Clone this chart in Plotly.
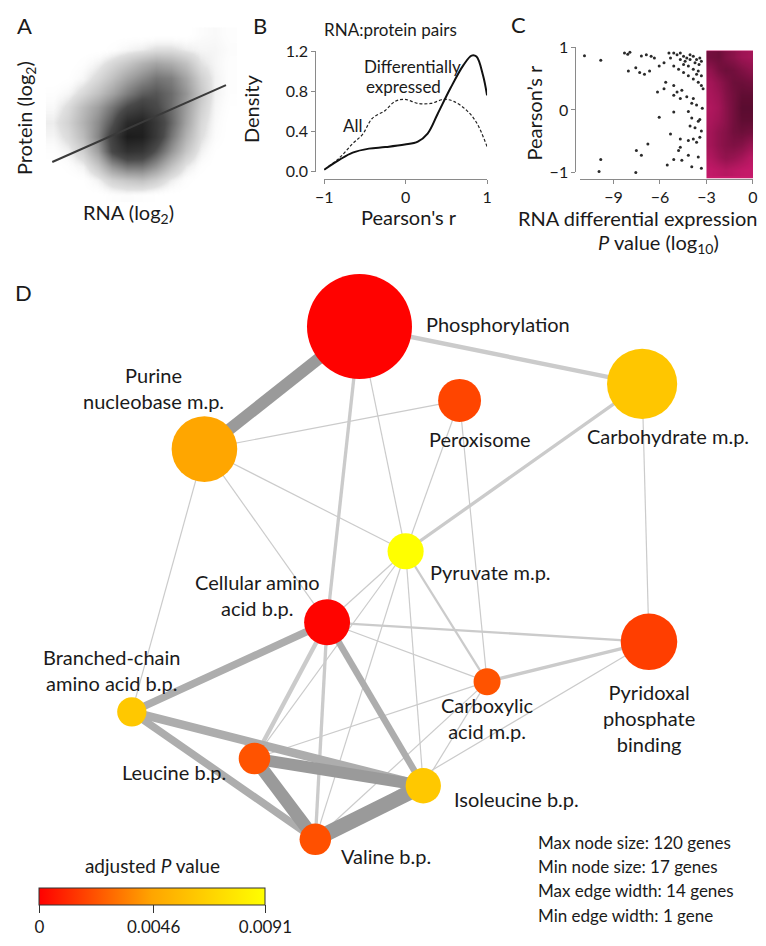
import plotly.graph_objects as go

# page body keeps its default 8px margin, so the figure is drawn 16px smaller
W, H = 766, 946
OFF = 8
FW, FH = W - 2 * OFF, H - 2 * OFF
def fx(x): return (x - OFF) / FW
def fy(y): return 1 - (y - OFF) / FH

FONT = "Lato"
TXT = "#1a1a1a"
AX = "#8a8a8a"

# ---------------- Panel A: RNA vs protein (estimated point density) ----------------
rna_bins = [2, 3, 4, 5, 6, 7, 8, 9, 10, 11, 12, 13, 14]
protein_bins = [2, 3, 4, 5, 6, 7, 8, 9, 10, 11, 12, 13]
density_a = [
    [0, 0, 0, 0, 0.02, 0.03, 0.02, 0.01, 0, 0, 0, 0, 0],
    [0, 0, 0.01, 0.06, 0.14, 0.18, 0.20, 0.15, 0.07, 0.02, 0, 0, 0],
    [0, 0.02, 0.06, 0.18, 0.35, 0.45, 0.45, 0.35, 0.20, 0.08, 0.02, 0, 0],
    [0.02, 0.06, 0.15, 0.32, 0.60, 0.75, 0.72, 0.55, 0.35, 0.18, 0.06, 0.01, 0],
    [0.05, 0.11, 0.22, 0.40, 0.65, 0.90, 0.88, 0.70, 0.45, 0.25, 0.10, 0.03, 0],
    [0.07, 0.14, 0.25, 0.38, 0.55, 0.80, 0.85, 0.70, 0.50, 0.30, 0.12, 0.04, 0],
    [0.04, 0.11, 0.22, 0.32, 0.45, 0.60, 0.68, 0.60, 0.48, 0.32, 0.15, 0.05, 0.01],
    [0.02, 0.05, 0.12, 0.20, 0.30, 0.42, 0.52, 0.55, 0.48, 0.35, 0.18, 0.06, 0.02],
    [0, 0.01, 0.05, 0.12, 0.20, 0.30, 0.38, 0.45, 0.42, 0.30, 0.15, 0.06, 0.02],
    [0, 0, 0.02, 0.06, 0.12, 0.18, 0.25, 0.30, 0.27, 0.20, 0.09, 0.05, 0.02],
    [0, 0, 0, 0, 0.02, 0.05, 0.07, 0.10, 0.10, 0.07, 0.05, 0.05, 0.03],
    [0, 0, 0, 0, 0, 0, 0, 0, 0, 0, 0.03, 0.04, 0.02],
]
fit_rna = [1.93, 13.73]
fit_protein = [4.27, 9.53]

# ---------------- Panel B: density of Pearson's r ----------------
r_diff = [-1.0, -0.81, -0.65, -0.45, -0.25, -0.01, 0.15, 0.27, 0.39, 0.55, 0.71, 0.81, 0.87, 0.95, 1.0]
dens_diff = [0.02, 0.12, 0.19, 0.23, 0.245, 0.27, 0.30, 0.38, 0.57, 0.83, 1.06, 1.155, 1.145, 0.96, 0.76]
r_all = [-1.0, -0.81, -0.65, -0.53, -0.41, -0.25, -0.13, -0.01, 0.15, 0.31, 0.47, 0.59, 0.75, 0.87, 1.0]
dens_all = [0.02, 0.14, 0.28, 0.37, 0.53, 0.61, 0.70, 0.72, 0.68, 0.68, 0.72, 0.70, 0.61, 0.49, 0.25]

# ---------------- Panel C: r vs RNA DE P value ----------------
pval_sparse = [-10.87, -9.82, -8.29, -8.08, -7.94, -8.04, -7.56, -7.31, -7.0, -7.2, -6.88, -6.57, -6.36,
               -6.67, -6.16, -6.05, -5.74, -5.63, -6.05, -5.74, -5.42, -5.32, -5.11, -4.9, -4.69, -4.48,
               -4.27, -4.06, -3.85, -3.64, -3.43, -5.11, -4.8, -4.48, -4.17, -3.85, -3.64, -3.53, -3.33,
               -5.11, -4.9, -4.59, -5.11, -4.69, -4.27, -3.95, -3.85, -3.64, -5.11, -4.17, -3.95, -3.53,
               -3.43, -4.06, -3.74, -5.32, -4.69, -4.17, -3.85, -3.64, -3.43, -6.78, -7.52, -7.2, -4.69,
               -4.8, -4.17, -3.53, -5.11, -4.59, -5.53, -3.95, -3.33, -9.82, -9.93, -7.56, -3.33, -3.22,
               -3.27, -3.33, -4.69, -4.38, -4.06, -3.74, -3.48, -3.33, -3.85, -3.53, -4.17, -4.48]
r_sparse = [0.877, 0.805, 0.92, 0.90, 0.93, 0.63, 0.685, 0.607, 0.58, 0.87, 0.893, 0.867, 0.84,
            0.63, 0.296, -0.109, 0.348, 0.452, 0.71, 0.763, 0.919, 0.84, 0.919, 0.893, 0.919, 0.867,
            0.84, 0.893, 0.867, 0.815, 0.84, 0.71, 0.659, 0.607, 0.555, 0.503, 0.581, 0.452, 0.40,
            0.40, 0.296, 0.322, 0.244, 0.192, 0.218, 0.114, 0.192, 0.088, -0.026, -0.016, -0.12, -0.172,
            -0.146, -0.25, -0.276, -0.378, -0.456, -0.482, -0.456, -0.508, -0.43, -0.535, -0.639, -0.717, -0.587,
            -0.639, -0.717, -0.743, -0.785, -0.795, -0.873, -0.899, -0.925, -0.785, -0.977, -0.992, 0.555, 0.348,
            0.036, -0.327, 0.815, 0.789, 0.815, 0.763, 0.737, 0.789, 0.659, 0.633, 0.71, 0.737]
pval_bins = [-2.75, -2.25, -1.75, -1.25, -0.75, -0.25]
r_bins = [-0.95, -0.75, -0.55, -0.35, -0.15, 0.05, 0.25, 0.45, 0.65, 0.85]
density_c = [
    [0.05, 0.10, 0.15, 0.10, 0.05, 0.02],
    [0.20, 0.35, 0.45, 0.40, 0.30, 0.15],
    [0.30, 0.45, 0.55, 0.60, 0.55, 0.40],
    [0.30, 0.45, 0.55, 0.70, 0.75, 0.70],
    [0.25, 0.35, 0.50, 0.70, 0.85, 0.85],
    [0.20, 0.30, 0.50, 0.70, 0.90, 0.90],
    [0.25, 0.35, 0.55, 0.70, 0.85, 0.85],
    [0.30, 0.45, 0.60, 0.75, 0.75, 0.70],
    [0.45, 0.65, 0.75, 0.70, 0.60, 0.50],
    [0.70, 0.75, 0.60, 0.50, 0.35, 0.30],
]
highlight_p = [-3.0, 0.0]
highlight_r = [-1.09, 0.96]

# ---------------- Panel D: enrichment network ----------------
node_ids = ["P", "Pu", "Pe", "Ca", "Py", "Ce", "Pd", "Cx", "Br", "Le", "Il", "Va"]
node_labels = ["Phosphorylation", "Purine<br>nucleobase m.p.", "Peroxisome", "Carbohydrate m.p.",
               "Pyruvate m.p.", "Cellular amino<br>acid b.p.", "Pyridoxal<br>phosphate<br>binding",
               "Carboxylic<br>acid m.p.", "Branched-chain<br>amino acid b.p.", "Leucine b.p.",
               "Isoleucine b.p.", "Valine b.p."]
node_x = [357, 199, 459, 645, 404, 324, 652, 487, 125, 250, 422, 312]
node_y = [621, 495, 545, 562, 390, 317, 297, 256, 225, 177, 149, 94]
node_genes = [120, 68, 38, 74, 29, 42, 56, 17, 20, 23, 28, 23]
node_padj = [0.00005, 0.0046, 0.0019, 0.0062, 0.0091, 0.0001, 0.0017, 0.0023, 0.0063, 0.0023, 0.0063, 0.0022]
label_x = [423, 147, 480, 671, 490, 253, 652, 487, 104, 168, 517, 384]
label_y = [624, 558, 505, 508, 369, 345, 219, 219, 268, 163, 135, 77]
label_anchor = ["left"] + ["center"] * 11

edges = [
    ("P", "Py", 1), ("Pu", "Pe", 1), ("Pu", "Py", 1), ("Pu", "Ce", 1), ("Pu", "Br", 1),
    ("Pe", "Py", 1), ("Pe", "Cx", 1), ("Ca", "Pd", 1), ("Py", "Ce", 1), ("Py", "Le", 1),
    ("Py", "Va", 1), ("Py", "Il", 1), ("Ce", "Cx", 1), ("Le", "Cx", 1), ("Va", "Cx", 1),
    ("Cx", "Il", 1), ("Va", "Pd", 1),
    ("Py", "Cx", 2), ("Ce", "Pd", 2), ("Ce", "Va", 3), ("P", "Ce", 3), ("Ca", "Py", 3),
    ("Cx", "Pd", 3), ("P", "Ca", 4), ("Ce", "Le", 4), ("Ce", "Il", 6), ("Ce", "Br", 7),
    ("Br", "Va", 7), ("Br", "Il", 8), ("P", "Pu", 11), ("Le", "Il", 11), ("Le", "Va", 12),
    ("Va", "Il", 14),
]
info_lines = ["Max node size: 120 genes", "Min node size: 17 genes",
              "Max edge width: 14 genes", "Min edge width: 1 gene"]

padj_ticks = [0, 0.0046, 0.0091]
padj_ticktext = ["0", "0.0046", "0.0091"]

# ---------------- figure ----------------
fig = go.Figure()

# A
fig.add_trace(go.Heatmap(
    x=rna_bins, y=protein_bins, z=density_a, zmin=0, zmax=0.9, zsmooth="best",
    colorscale=[[0, "rgba(255,255,255,0)"], [0.1, "rgba(225,225,225,1)"], [0.35, "#a0a0a0"],
                [0.65, "#4a4a4a"], [1, "#1c1c1c"]],
    showscale=False, hoverinfo="skip", xaxis="x", yaxis="y"))
fig.add_trace(go.Scatter(x=fit_rna, y=fit_protein, mode="lines",
                         line=dict(color="#3a3a3a", width=2), xaxis="x", yaxis="y", hoverinfo="skip"))

# B
fig.add_trace(go.Scatter(x=r_all, y=dens_all, mode="lines", line=dict(color="#222", width=1.2, dash="3px,2px",
                         shape="spline"), xaxis="x2", yaxis="y2", hoverinfo="skip"))
fig.add_trace(go.Scatter(x=r_diff, y=dens_diff, mode="lines", line=dict(color="#111", width=2, shape="spline"),
                         xaxis="x2", yaxis="y2", hoverinfo="skip"))

# C
fig.add_trace(go.Heatmap(
    x=pval_bins, y=r_bins, z=density_c, zmin=0, zmax=1, zsmooth="best",
    colorscale=[[0, "rgba(30,5,15,0)"], [1, "rgba(30,5,15,0.72)"]],
    showscale=False, hoverinfo="skip", xaxis="x3", yaxis="y3"))
fig.add_trace(go.Scatter(x=pval_sparse, y=r_sparse, mode="markers",
                         marker=dict(size=3, color="#2a2a2a"), xaxis="x3", yaxis="y3",
                         hoverinfo="skip", cliponaxis=False))
fig.add_trace(go.Scatter(x=[None], y=[None], xaxis="x3", yaxis="y5", hoverinfo="skip"))

# D edges
pos = {n: (x, y) for n, x, y in zip(node_ids, node_x, node_y)}
def edge_width(g):
    return 1.2 + (g - 1) * (15 - 1.2) / 13
def edge_color(g):
    if g >= 10:
        return "#9a9a9a"
    if g >= 6:
        return "#adadad"
    return "#cbcbcb"
for a, b, g in sorted(edges, key=lambda e: e[2]):
    fig.add_trace(go.Scatter(x=[pos[a][0], pos[b][0]], y=[pos[a][1], pos[b][1]], mode="lines",
                             line=dict(width=edge_width(g), color=edge_color(g)),
                             xaxis="x4", yaxis="y4", hoverinfo="skip"))

sizes = [27 + (g - 17) * 78 / 103 for g in node_genes]
fig.add_trace(go.Scatter(
    x=node_x, y=node_y, mode="markers", xaxis="x4", yaxis="y4", hoverinfo="skip",
    marker=dict(size=sizes, color=node_padj, cmin=0, cmax=0.0091, opacity=1,
                colorscale=[[0, "#FF0000"], [0.5, "#FFA500"], [1, "#FFFF00"]],
                line=dict(width=0), showscale=True,
                colorbar=dict(orientation="h", x=fx(146), xanchor="center", y=fy(878), yanchor="top",
                              len=226, lenmode="pixels", thickness=17, thicknessmode="pixels",
                              outlinewidth=1, outlinecolor="#333", xpad=0, ypad=0,
                              tickvals=padj_ticks, ticktext=padj_ticktext, ticks="outside",
                              ticklen=8, tickcolor="#333", tickfont=dict(size=17, color=TXT, family=FONT),
                              title=dict(text="adjusted <i>P</i> value", side="top",
                                         font=dict(size=19, color=TXT, family=FONT))))))

ann = []
def txt(x, y, s, size=20, xanchor="center", angle=0, xref="paper", yref="paper"):
    if xref == "paper":
        x, y = fx(x), fy(y)
    ann.append(dict(x=x, y=y, xref=xref, yref=yref, text=s, showarrow=False, xanchor=xanchor,
                    yanchor="middle", textangle=angle, font=dict(size=size, color=TXT, family=FONT)))

# panel letters
txt(16, 16, "A", 22); txt(256, 16, "B", 22); txt(519, 15, "C", 22); txt(15, 290, "D", 22)
# A labels
txt(16, 111, "Protein (log<sub>2</sub>)", 20, angle=-90)
txt(122, 209, "RNA (log<sub>2</sub>)", 20)
# B labels
txt(389, 20, "RNA:protein pairs", 17)
txt(247, 102, "Density", 20, angle=-90)
txt(407, 213, "Pearson's r", 20)
txt(-0.53, 1.045, "Differentially", 17, xanchor="left", xref="x2", yref="y2")
txt(-0.51, 0.85, "expressed", 17, xanchor="left", xref="x2", yref="y2")
txt(-0.65, 0.46, "All", 17, xref="x2", yref="y2")
# C labels
txt(535, 105, "Pearson’s r", 20, angle=-90)
txt(641, 214, "RNA differential expression", 20)
txt(662, 240, "<i>P</i> value (log<sub>10</sub>)", 20)
# D labels
for s, lx, ly, anc in zip(node_labels, label_x, label_y, label_anchor):
    txt(lx, ly, s, 20, xanchor=anc, xref="x4", yref="y4")
for i, s in enumerate(info_lines):
    txt(537, 855 + 25 * i, s, 17, xanchor="left")

axis_common = dict(showgrid=False, zeroline=False, ticks="outside", ticklen=4, tickcolor=AX,
                   showline=True, linecolor=AX, linewidth=1,
                   tickfont=dict(size=16, color=TXT, family=FONT))

fig.update_layout(
    width=FW, height=FH, margin=dict(l=0, r=0, t=0, b=0),
    paper_bgcolor="white", plot_bgcolor="rgba(0,0,0,0)", showlegend=False,
    font=dict(family=FONT, color=TXT),
    annotations=ann,
    xaxis=dict(domain=[fx(30), fx(240)], range=[1, 15], visible=False),
    yaxis=dict(domain=[fy(197.5), fy(17.5)], range=[1.5, 13.5], visible=False),
    xaxis2=dict(domain=[fx(321), fx(487)], range=[-1, 1], anchor="free", position=fy(173),
                tickvals=[-1, 0, 1], **axis_common),
    yaxis2=dict(domain=[fy(166), fy(42)], range=[0, 1.2], anchor="free", position=fx(312),
                tickvals=[0, 0.4, 0.8, 1.2], tickformat=".1f", **axis_common),
    xaxis3=dict(domain=[fx(582), fx(758)], range=[-11.14, 0.0], anchor="y3",
                tickvals=[-9, -6, -3, 0], **axis_common),
    yaxis3=dict(domain=[fy(173), fy(38.3)], range=[-1.09, 1.008], visible=False),
    yaxis5=dict(domain=[fy(166.7), fy(38.3)], range=[-1, 1], anchor="free", position=fx(577),
                tickvals=[-1, 0, 1], **axis_common),
    xaxis4=dict(domain=[0, 1], range=[OFF, W - OFF], visible=False),
    yaxis4=dict(domain=[0, fy(270)], range=[OFF, H - 270], visible=False),
    shapes=[dict(type="rect", xref="x3", yref="y3", x0=highlight_p[0], x1=highlight_p[1],
                 y0=highlight_r[0], y1=highlight_r[1], fillcolor="#C81A6B", line=dict(width=0),
                 layer="below")],
)

fig.write_html("out.html", config={"displayModeBar": False, "responsive": False})
